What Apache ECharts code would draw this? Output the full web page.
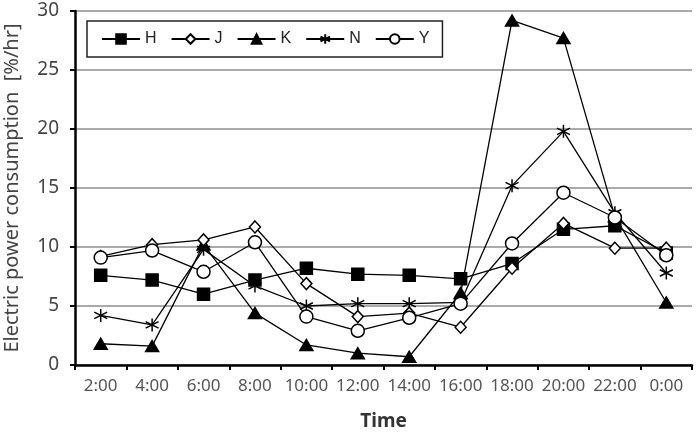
<!DOCTYPE html>
<html>
<head>
    <meta charset="UTF-8">
    <title>Electric power consumption</title>
    <script src="https://cdn.jsdelivr.net/npm/echarts@6/dist/echarts.min.js"></script>
    <style>
        html, body { margin: 0; padding: 0; background: #fff; }
        #chart { width: 699px; height: 436px; }
    </style>
</head>
<body>
<div id="chart"></div>
<script>
    var times = ['2:00', '4:00', '6:00', '8:00', '10:00', '12:00', '14:00', '16:00', '18:00', '20:00', '22:00', '0:00'];

    var H = [7.6, 7.2, 6.0, 7.2, 8.2, 7.7, 7.6, 7.3, 8.6, 11.5, 11.8, 9.5];
    var J = [9.2, 10.2, 10.6, 11.7, 6.9, 4.1, 4.4, 3.2, 8.2, 12.0, 9.9, 9.9];
    var K = [1.8, 1.6, 10.2, 4.4, 1.7, 1.0, 0.7, 6.1, 29.2, 27.7, 12.6, 5.3];
    var N = [4.2, 3.4, 9.8, 6.7, 5.0, 5.2, 5.2, 5.3, 15.2, 19.8, 12.9, 7.8];
    var Y = [9.1, 9.7, 7.9, 10.4, 4.1, 2.9, 4.0, 5.2, 10.3, 14.6, 12.5, 9.3];

    var starPath = 'path://M5,0L5,10M0.67,2.5L9.33,7.5M0.67,7.5L9.33,2.5';

    function lineSeries(name, data, symbol, size, fill) {
        return {
            name: name,
            type: 'line',
            data: data,
            symbol: symbol,
            symbolSize: size,
            showAllSymbol: true,
            lineStyle: { color: '#000', width: 1.3 },
            itemStyle: { color: fill, borderColor: '#000', borderWidth: 1.5 },
            emphasis: { disabled: true }
        };
    }

    var chart = echarts.init(document.getElementById('chart'));

    chart.setOption({
        animation: false,
        backgroundColor: '#fff',
        grid: { left: 75, right: 7, top: 11, bottom: 71, outerBoundsMode: 'none' },
        legend: {
            left: 87,
            top: 21,
            padding: [10, 13, 10, 14],
            itemWidth: 38,
            itemHeight: 12,
            itemGap: 14,
            borderColor: '#222',
            borderWidth: 1.5,
            backgroundColor: '#fff',
            textStyle: { fontSize: 16, color: '#222', fontFamily: 'Liberation Sans' },
            data: ['H', 'J', 'K', 'N', 'Y']
        },
        xAxis: {
            type: 'category',
            data: times,
            boundaryGap: true,
            name: 'Time',
            nameLocation: 'middle',
            nameGap: 47,
            nameTextStyle: { fontSize: 19, fontWeight: 'bold', color: '#333', fontFamily: 'Noto Sans' },
            axisLine: { lineStyle: { color: '#000', width: 2.5 } },
            axisTick: { show: true, length: 5, lineStyle: { color: '#000', width: 2 } },
            axisLabel: { interval: 0, fontSize: 17, color: '#555', margin: 13, fontFamily: 'Noto Sans' }
        },
        yAxis: {
            type: 'value',
            min: 0,
            max: 30,
            interval: 5,
            name: 'Electric power consumption  [%/hr]',
            nameLocation: 'middle',
            nameGap: 53,
            nameTextStyle: { fontSize: 20, color: '#444', fontFamily: 'Noto Sans' },
            axisLine: { show: true, lineStyle: { color: '#000', width: 2.5 } },
            axisTick: { show: true, length: 5, lineStyle: { color: '#000', width: 2 } },
            axisLabel: { fontSize: 19, color: '#444', margin: 16, fontFamily: 'Noto Sans' },
            splitLine: { lineStyle: { color: '#aaa', width: 2 } }
        },
        // K first so the open J diamond covers it at 6:00, as in the source figure
        series: [
            lineSeries('K', K, 'triangle', [13, 11], '#000'),
            lineSeries('H', H, 'rect', 12, '#000'),
            lineSeries('N', N, starPath, 13, '#000'),
            lineSeries('J', J, 'diamond', [11, 12], '#fff'),
            lineSeries('Y', Y, 'circle', 13, '#fff')
        ]
    });
</script>
</body>
</html>
